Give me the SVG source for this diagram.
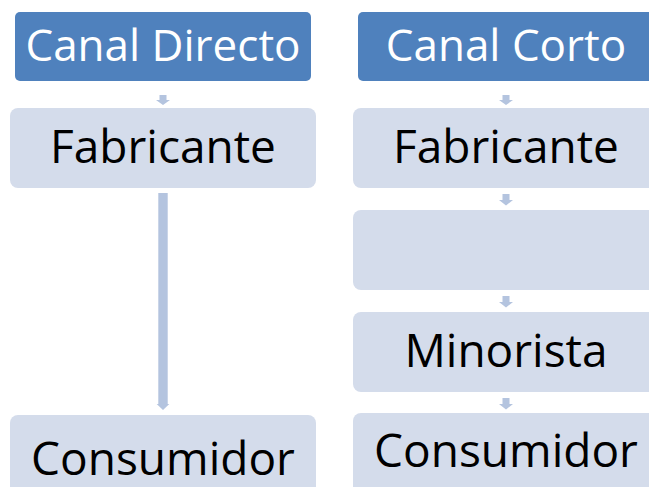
<svg xmlns="http://www.w3.org/2000/svg" width="649" height="487" viewBox="0 0 649 487">
<defs>
<style>
.hdr{fill:#4F81BD}
.box{fill:#D4DCEB}
.arr{fill:#B4C4DF}
.t{font-family:"Open Sans","Liberation Sans",sans-serif;text-anchor:middle}
.th{fill:#FFFFFF;font-size:44px}
.tb{fill:#000000;font-size:46px}
</style>
</defs>
<g id="connectors">
<path class="arr" d="M159.5,95 h7 v5 h3.5 l-7,5 l-7,-5 h3.5 z"/>
<path class="arr" d="M158.3,193 h9.4 v211 h1.6 l-6.3,6 l-6.3,-6 h1.6 z"/>
<path class="arr" d="M502.5,95 h7 v5 h3.5 l-7,5 l-7,-5 h3.5 z"/>
<path class="arr" d="M502.5,194 h7 v6 h3.5 l-7,5.5 l-7,-5.5 h3.5 z"/>
<path class="arr" d="M502.5,296 h7 v6 h3.5 l-7,5.5 l-7,-5.5 h3.5 z"/>
<path class="arr" d="M502.5,398 h7 v6 h3.5 l-7,5.5 l-7,-5.5 h3.5 z"/>
</g>
<g id="hdr-directo">
<rect class="hdr" x="15" y="12" width="296" height="69" rx="5"/>
<text class="t th" x="163" y="61">Canal Directo</text>
</g>
<g id="fab-directo">
<rect class="box" x="10" y="108" width="306" height="80" rx="8"/>
<text class="t tb" x="163" y="163">Fabricante</text>
</g>
<g id="cons-directo">
<rect class="box" x="10" y="415" width="306" height="90" rx="8"/>
<text class="t tb" x="163" y="475">Consumidor</text>
</g>
<g id="hdr-corto">
<rect class="hdr" x="358" y="12" width="296" height="69" rx="5"/>
<text class="t th" x="506" y="61">Canal Corto</text>
</g>
<g id="fab-corto">
<rect class="box" x="353" y="108" width="306" height="80" rx="8"/>
<text class="t tb" x="506" y="163">Fabricante</text>
</g>
<g id="empty-corto">
<rect class="box" x="353" y="210" width="306" height="80" rx="8"/>
</g>
<g id="min-corto">
<rect class="box" x="353" y="312" width="306" height="80" rx="8"/>
<text class="t tb" x="506" y="367">Minorista</text>
</g>
<g id="cons-corto">
<rect class="box" x="353" y="413" width="306" height="90" rx="8"/>
<text class="t tb" x="506" y="467">Consumidor</text>
</g>
</svg>
